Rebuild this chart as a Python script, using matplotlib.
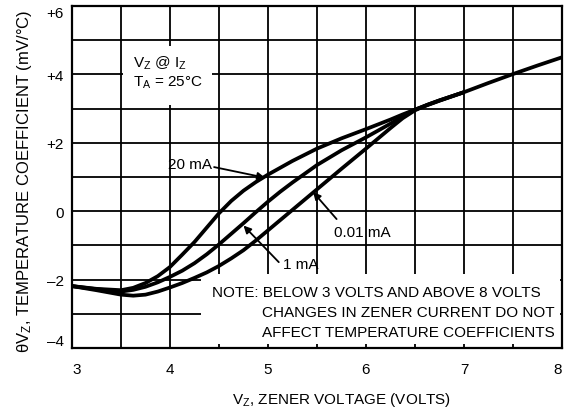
import numpy as np
import matplotlib
matplotlib.use('Agg')
import matplotlib.pyplot as plt
from matplotlib.patches import Rectangle

plt.rcParams['font.family'] = ['Liberation Sans Narrow', 'Liberation Sans', 'DejaVu Sans']
plt.rcParams['mathtext.default'] = 'regular'

# zener voltage (V) and temperature coefficient (mV/degC)
v_20ma = [3.0, 3.25, 3.5, 3.625, 3.75, 3.875, 4.0, 4.125, 4.25, 4.375, 4.5, 4.625, 4.75, 4.875,
          5.0, 5.25, 5.5, 5.75, 6.0, 6.25, 6.375, 6.5, 6.625, 6.75, 7.0, 7.25, 7.5, 7.75, 8.0]
tc_20ma = [-2.19, -2.27, -2.31, -2.24, -2.10, -1.90, -1.63, -1.27, -0.90, -0.48, -0.06, 0.30,
           0.60, 0.85, 1.07, 1.47, 1.83, 2.13, 2.40, 2.68, 2.83, 2.97, 3.10, 3.23, 3.48, 3.75,
           4.01, 4.26, 4.50]
v_1ma = [3.0, 3.25, 3.5, 3.625, 3.75, 3.875, 4.0, 4.125, 4.25, 4.375, 4.5, 4.625, 4.75, 4.875,
         5.0, 5.125, 5.25, 5.5, 5.75, 6.0, 6.25, 6.375, 6.5, 6.625, 6.75, 7.0]
tc_1ma = [-2.19, -2.28, -2.35, -2.30, -2.21, -2.08, -1.92, -1.74, -1.52, -1.26, -0.97, -0.66,
          -0.35, -0.03, 0.28, 0.57, 0.84, 1.35, 1.78, 2.16, 2.56, 2.77, 2.97, 3.11, 3.24, 3.48]
v_001ma = [3.0, 3.25, 3.5, 3.625, 3.75, 3.875, 4.0, 4.125, 4.25, 4.375, 4.5, 4.625, 4.75, 4.875,
           5.0, 5.125, 5.25, 5.375, 5.5, 5.75, 6.0, 6.25, 6.375, 6.5, 6.625, 6.75, 7.0]
tc_001ma = [-2.19, -2.31, -2.44, -2.47, -2.44, -2.35, -2.23, -2.10, -1.95, -1.79, -1.60, -1.38,
            -1.14, -0.86, -0.56, -0.26, 0.04, 0.34, 0.64, 1.24, 1.83, 2.43, 2.72, 2.95, 3.11,
            3.24, 3.48]

series = [('20 mA', v_20ma, tc_20ma), ('1 mA', v_1ma, tc_1ma), ('0.01 mA', v_001ma, tc_001ma)]

# (label, label position, arrow tail, arrow tip)
callouts = [
    ('20 mA', (4.20, 1.38), (4.45, 1.29), (4.97, 0.98)),
    ('1 mA', (5.33, -1.54), (5.11, -1.49), (4.75, -0.42)),
    ('0.01 mA', (5.96, -0.61), (5.70, -0.23), (5.46, 0.56)),
]

yticks = [6, 4, 2, 0, -2, -4]
ytick_labels = ['+6', '+4', '+2', '0', '\u20132', '\u20134']
xticks = [3, 4, 5, 6, 7, 8]
x_grid = [3.5, 4.0, 4.5, 5.0, 5.5, 6.0, 6.5, 7.0, 7.5]
y_grid = [-3, -2, -1, 0, 1, 2, 3, 4, 5]

fig = plt.figure(figsize=(5.70, 4.14), dpi=100)
ax = fig.add_axes([72 / 570, 1 - 349 / 414, 490 / 570, 342 / 414])

ax.set_xlim(3, 8)
ax.set_ylim(-4, 6)
ax.set_xticks(xticks)
ax.set_yticks(yticks)
ax.set_yticklabels(ytick_labels)
for gx in x_grid:
    ax.axvline(gx, color='black', lw=1.3, zorder=1.5, snap=True)
for gy in y_grid:
    ax.axhline(gy, color='black', lw=1.3, zorder=1.5, snap=True)

ax.tick_params(axis='both', length=0, labelsize=11)
ax.tick_params(axis='x', pad=10)
ax.tick_params(axis='y', pad=6)
xlabs = ax.get_xticklabels()
xlabs[0].set_ha('left')
xlabs[-1].set_ha('right')
ylabs = ax.get_yticklabels()
ylabs[0].set_va('top')
ylabs[-1].set_va('bottom')

for s in ax.spines.values():
    s.set_linewidth(1.6)
    s.set_zorder(3)

# white areas behind the annotations (grid is interrupted there)
ax.add_patch(Rectangle((3.52, 3.1), 0.91, 1.72, facecolor='white', edgecolor='none', zorder=1.8))
ax.add_patch(Rectangle((4.32, -3.88), 3.66, 2.04, facecolor='white', edgecolor='none', zorder=1.8))

for name, v, tc in series:
    ax.plot(v, tc, color='black', lw=2.7, solid_capstyle='butt', solid_joinstyle='round', zorder=2.5)

for name, pos, tail, tip in callouts:
    ax.text(pos[0], pos[1], name, ha='center', va='center', fontsize=11, zorder=4)
    ax.annotate('', xy=tip, xytext=tail, zorder=4,
                arrowprops=dict(arrowstyle='-|>', color='black', lw=1.3,
                                mutation_scale=11, shrinkA=0, shrinkB=0))

ax.text(3.62, 4.36, 'V$_Z$ @ I$_Z$', ha='left', va='center', fontsize=11, zorder=4)
ax.text(3.62, 3.78, 'T$_A$ = 25°C', ha='left', va='center', fontsize=11, zorder=4)

ax.text(4.43, -2.36, 'NOTE: BELOW 3 VOLTS AND ABOVE 8 VOLTS', ha='left', va='center',
        fontsize=11, zorder=4)
ax.text(4.94, -2.94, 'CHANGES IN ZENER CURRENT DO NOT', ha='left', va='center',
        fontsize=11, zorder=4)
ax.text(4.94, -3.53, 'AFFECT TEMPERATURE COEFFICIENTS', ha='left', va='center',
        fontsize=11, zorder=4)

fig.text(342 / 570, 1 - 400 / 414, 'V$_Z$, ZENER VOLTAGE (VOLTS)', ha='center', va='center',
         fontsize=11)
fig.text(25 / 570, 1 - 181 / 414, '\u03b8V$_Z$, TEMPERATURE COEFFICIENT (mV/°C)', ha='center',
         va='center', rotation=90, fontsize=12)

fig.savefig('out.png', dpi=100, facecolor='white')
